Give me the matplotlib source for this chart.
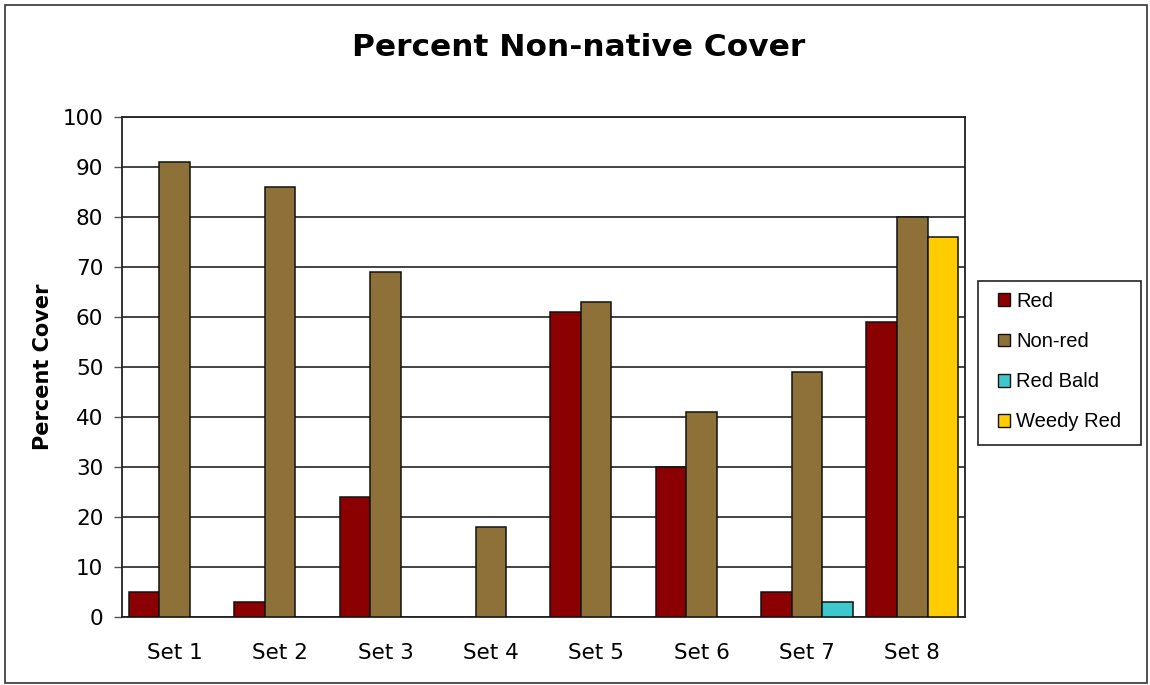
import numpy as np
import matplotlib
matplotlib.use("Agg")
import matplotlib.pyplot as plt
from matplotlib.patches import Patch, Rectangle

# Data
sets = ["Set 1", "Set 2", "Set 3", "Set 4", "Set 5", "Set 6", "Set 7", "Set 8"]
red = [5, 3, 24, 0, 61, 30, 5, 59]
non_red = [91, 86, 69, 18, 63, 41, 49, 80]
red_bald = [0, 0, 0, 0, 0, 0, 3, 0]
weedy_red = [0, 0, 0, 0, 0, 0, 0, 76]
y_ticks = list(range(0, 101, 10))

series = [
    ("Red", red, "#8B0000", -1),
    ("Non-red", non_red, "#8E7139", 0),
    ("Red Bald", red_bald, "#3CC8CC", 1),
    ("Weedy Red", weedy_red, "#FFCC00", 1),
]

fig = plt.figure(figsize=(11.5, 6.85), dpi=100)
ax = fig.add_axes([0.1061, 0.0993, 0.7330, 0.7299])

x = np.arange(len(sets))
bw = 0.29
for name, vals, col, slot in series:
    vals = np.asarray(vals, dtype=float)
    mask = vals > 0
    ax.bar(x[mask] + slot * bw, vals[mask], width=bw, color=col,
           edgecolor="#111111", linewidth=1.1, zorder=3)

ax.set_xlim(-0.5, len(sets) - 0.5)
ax.set_ylim(0, 100)
ax.set_yticks(y_ticks)
ax.set_yticklabels([str(t) for t in y_ticks], fontsize=15.5, family="DejaVu Sans")
ax.set_xticks(x)
ax.set_xticklabels(sets, fontsize=15.5, family="DejaVu Sans")
ax.tick_params(axis="x", length=0, pad=19)
ax.tick_params(axis="y", direction="out", length=5.5, width=1, pad=8, color="#555555")
ax.yaxis.grid(True, color="#222222", linewidth=1.2, zorder=1)
ax.set_axisbelow(True)
for s in ax.spines.values():
    s.set_color("#222222")
    s.set_linewidth(1.3)

ax.set_ylabel("Percent Cover", fontsize=15, fontweight="bold", labelpad=7)

fig.text(0.503, 0.930, "Percent Non-native Cover", ha="center", va="center",
         fontsize=22.5, fontweight="bold", family="DejaVu Sans")

# Legend: entries without their own frame, boxed by a fixed rectangle
fig.patches.append(Rectangle((0.8504, 0.3504), 0.1417, 0.2394, transform=fig.transFigure,
                             facecolor="white", edgecolor="#222222", linewidth=1.2))
handles = [Patch(facecolor=c, edgecolor="#111111", linewidth=1.0, label=n)
           for n, _, c, _ in series]
leg = fig.legend(handles=handles, loc="upper left",
                 bbox_to_anchor=(0.8583, 0.590), bbox_transform=fig.transFigure,
                 borderaxespad=0, frameon=False,
                 prop={"family": "Liberation Sans", "size": 14.5},
                 handlelength=0.6, handleheight=0.6, handletextpad=0.3,
                 labelspacing=1.05, borderpad=0.55)

# Outer chart border
fig.patches.append(Rectangle((0.004, 0.003), 0.993, 0.990, transform=fig.transFigure,
                             fill=False, edgecolor="#333333", linewidth=1.2))

fig.savefig("out.png", dpi=100)
